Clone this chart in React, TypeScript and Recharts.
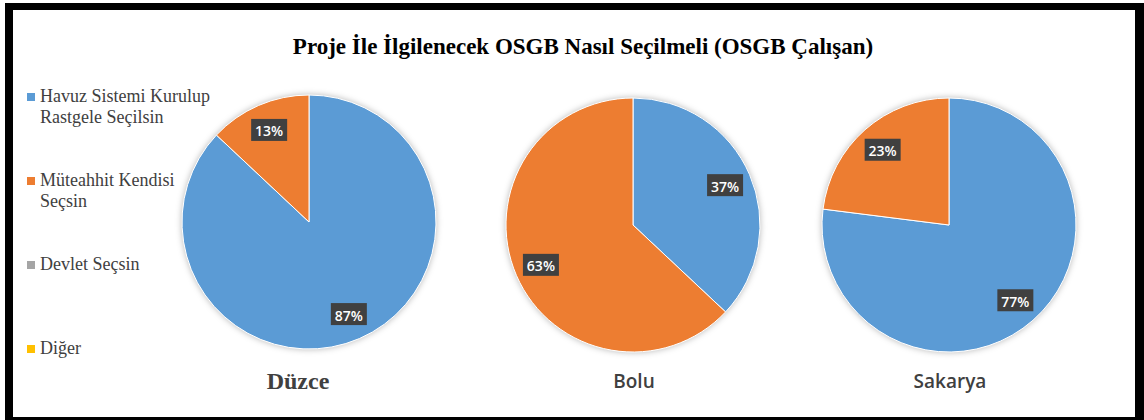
import React from 'react';
import { PieChart, Pie, Cell } from 'recharts';

const categories = [
    'Havuz Sistemi Kurulup Rastgele Seçilsin',
    'Müteahhit Kendisi Seçsin',
    'Devlet Seçsin',
    'Diğer'
];
const colors = ['#5B9BD5', '#ED7D31', '#A5A5A5', '#FFC000'];

const cities = ['Düzce', 'Bolu', 'Sakarya'];
const duzceValues = [87, 13, 0, 0];
const boluValues = [37, 63, 0, 0];
const sakaryaValues = [77, 23, 0, 0];

const title = 'Proje İle İlgilenecek OSGB Nasıl Seçilmeli (OSGB Çalışan)';

const WIDTH = 1144;
const HEIGHT = 420;
const RADIAN = Math.PI / 180;
const SERIF = "'Liberation Serif', 'Times New Roman', serif";

const toData = (values: number[]) =>
    categories.map((name, i) => ({ name, value: values[i] }));

const renderLabel = (props: any) => {
    const { cx, cy, midAngle, outerRadius, value } = props;
    if (!value) return null;
    const r = outerRadius * 0.79;
    const x = cx + r * Math.cos(-midAngle * RADIAN);
    const y = cy + r * Math.sin(-midAngle * RADIAN);
    return (
        <g>
            <rect x={x - 18} y={y - 11} width={36} height={22} fill="#404040" />
            <text
                x={x}
                y={y + 1}
                textAnchor="middle"
                dominantBaseline="central"
                fill="#ffffff"
                fontSize={14}
                fontWeight={600}
                fontFamily="'Open Sans', sans-serif"
            >
                {value}%
            </text>
        </g>
    );
};

// pie centres are relative to the chart's 5px default margin
const pies = [
    { city: cities[0], values: duzceValues, cx: 304, cy: 217, left: 298 },
    { city: cities[1], values: boluValues, cx: 628, cy: 220, left: 634 },
    { city: cities[2], values: sakaryaValues, cx: 944, cy: 220, left: 950 }
];

const cityStyles: React.CSSProperties[] = [
    { fontFamily: SERIF, fontWeight: 'bold', fontSize: 24 },
    { fontFamily: "'Open Sans', sans-serif", fontWeight: 600, fontSize: 19 },
    { fontFamily: "'Open Sans', sans-serif", fontWeight: 600, fontSize: 19 }
];

const App = () => {
    return (
        <div style={{ position: 'absolute', left: 0, top: 0, width: WIDTH, height: HEIGHT, overflow: 'hidden', background: '#fff' }}>
            <style>{`.recharts-pie { filter: drop-shadow(0 0 3px rgba(0,0,0,0.28)); }`}</style>
            <div style={{
                position: 'absolute', left: 5, top: 3, width: WIDTH - 5, height: HEIGHT + 2,
                boxSizing: 'border-box', borderStyle: 'solid', borderColor: '#000',
                borderWidth: '7px 9px 8px 8px'
            }} />
            <div style={{
                position: 'absolute', left: 11, width: WIDTH, top: 33, textAlign: 'center',
                fontFamily: SERIF, fontWeight: 'bold', fontSize: 23, lineHeight: '28px', color: '#000'
            }}>
                {title}
            </div>
            <PieChart width={WIDTH} height={HEIGHT} style={{ position: 'absolute', left: 0, top: 0 }}>
                {pies.map((p) => (
                    <Pie
                        key={p.city}
                        data={toData(p.values)}
                        dataKey="value"
                        nameKey="name"
                        cx={p.cx}
                        cy={p.cy}
                        outerRadius={127}
                        startAngle={90}
                        endAngle={-270}
                        stroke="#ffffff"
                        strokeWidth={1}
                        label={renderLabel}
                        labelLine={false}
                        isAnimationActive={false}
                    >
                        {categories.map((c, i) => (
                            <Cell key={c} fill={colors[i]} />
                        ))}
                    </Pie>
                ))}
            </PieChart>
            {pies.map((p, i) => (
                <div key={p.city} style={{
                    position: 'absolute', top: 368, left: p.left, width: 200, marginLeft: -100, textAlign: 'center',
                    color: '#404040', ...cityStyles[i]
                }}>
                    {p.city}
                </div>
            ))}
            {categories.map((c, i) => (
                <div key={c} style={{
                    position: 'absolute', left: 27, top: 86 + i * 84, display: 'flex',
                    fontFamily: SERIF, fontSize: 18, lineHeight: '21px', color: '#404040'
                }}>
                    <span style={{ width: 8, height: 8, background: colors[i], marginTop: 7, marginRight: 5, flexShrink: 0 }} />
                    <span style={{ width: 178 }}>{c}</span>
                </div>
            ))}
        </div>
    );
};

export default App;
